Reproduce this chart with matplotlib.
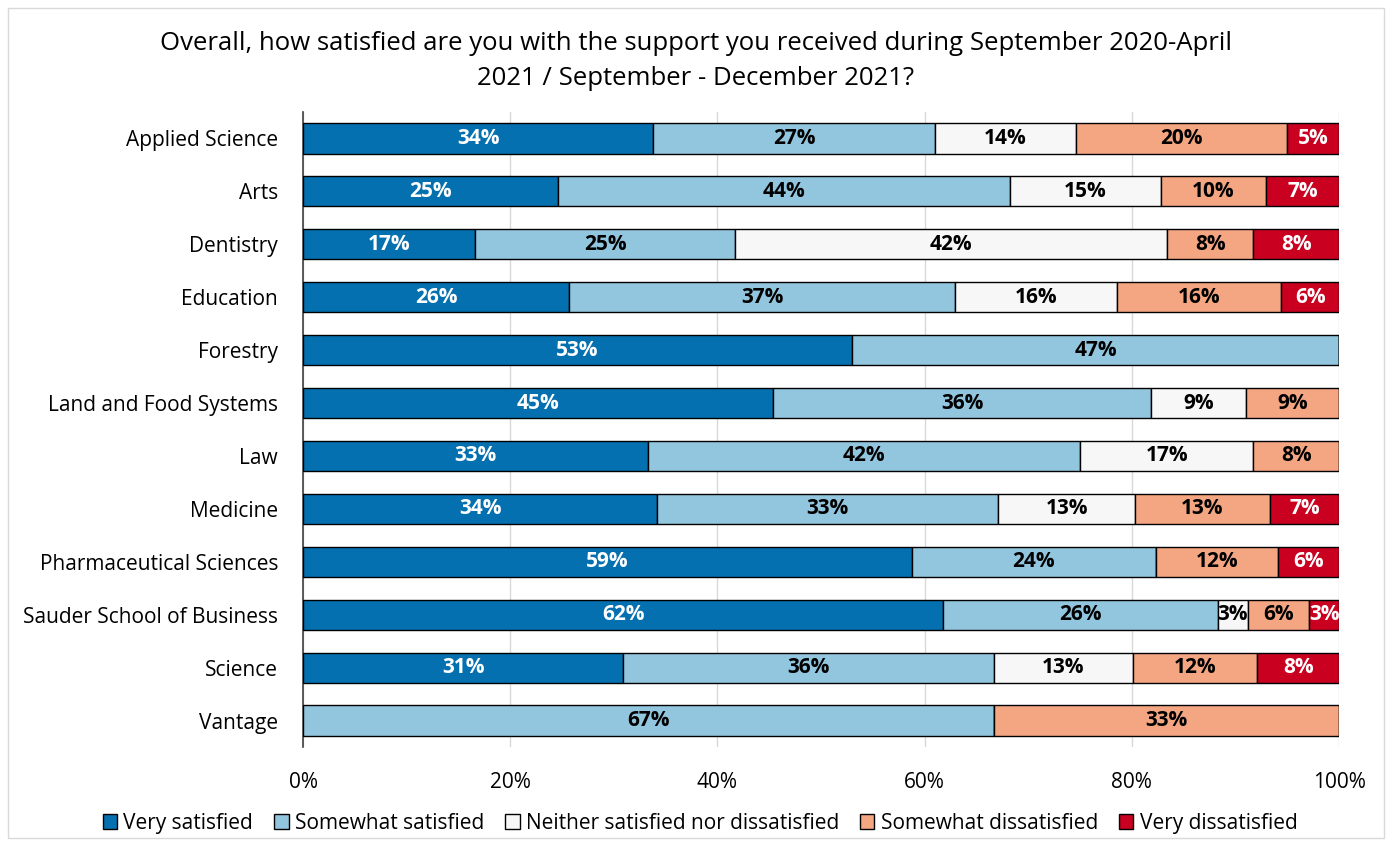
import matplotlib.pyplot as plt
from matplotlib.patches import Rectangle
import numpy as np

plt.rcParams["font.family"] = ["Open Sans", "DejaVu Sans"]

faculties = [
    "Applied Science", "Arts", "Dentistry", "Education", "Forestry",
    "Land and Food Systems", "Law", "Medicine", "Pharmaceutical Sciences",
    "Sauder School of Business", "Science", "Vantage",
]
responses = [
    "Very satisfied", "Somewhat satisfied", "Neither satisfied nor dissatisfied",
    "Somewhat dissatisfied", "Very dissatisfied",
]
very_sat = [33.8, 24.6, 16.6, 25.7, 53.0, 45.4, 33.3, 34.2, 58.8, 61.8, 30.9, 0.0]
some_sat = [27.2, 43.6, 25.1, 37.2, 47.0, 36.4, 41.7, 32.9, 23.5, 26.5, 35.8, 66.7]
neither = [13.6, 14.6, 41.7, 15.7, 0.0, 9.2, 16.7, 13.2, 0.0, 2.9, 13.4, 0.0]
some_dis = [20.4, 10.1, 8.3, 15.8, 0.0, 9.0, 8.3, 13.0, 11.8, 5.9, 12.0, 33.3]
very_dis = [5.0, 7.1, 8.3, 5.6, 0.0, 0.0, 0.0, 6.7, 5.9, 2.9, 7.9, 0.0]

colors = ["#0570b0", "#92c5de", "#f7f7f7", "#f4a582", "#ca0020"]
text_colors = ["white", "black", "black", "black", "white"]

fig = plt.figure(figsize=(13.92, 8.46), dpi=100)
fig.patches.append(Rectangle((8 / 1392, 8 / 846), 1 - 16 / 1392, 1 - 16 / 846,
                             transform=fig.transFigure, fill=False,
                             edgecolor="#d9d9d9", linewidth=1))
ax = fig.add_axes([0.2177, 0.117, 0.7443, 0.7506])

series = [very_sat, some_sat, neither, some_dis, very_dis]
y = np.arange(len(faculties))
left = np.zeros(len(faculties))
for vals, name, col, tcol in zip(series, responses, colors, text_colors):
    vals = np.array(vals)
    ax.barh(y, vals, left=left, height=0.57, color=col, edgecolor="black",
            linewidth=1.0, label=name, zorder=3)
    for yi, (l, v) in enumerate(zip(left, vals)):
        if v > 0:
            ax.text(l + v / 2, yi, f"{round(v):.0f}%", ha="center", va="center",
                    color=tcol, fontsize=15, fontweight="bold", zorder=4)
    left += vals

ax.set_xlim(0, 100)
ax.set_ylim(len(faculties) - 0.5, -0.5)
ax.set_yticks(y)
ax.set_yticklabels(faculties, fontsize=15)
ax.set_xticks(np.arange(0, 101, 20))
ax.set_xticklabels([f"{t}%" for t in range(0, 101, 20)], fontsize=15)
ax.tick_params(axis="both", length=0, pad=18)
ax.xaxis.grid(True, color="#d9d9d9", linewidth=1, zorder=0)
for side in ["top", "right", "bottom"]:
    ax.spines[side].set_visible(False)
ax.spines["left"].set_color("#404040")
ax.spines["left"].set_linewidth(1.2)

fig.text(0.5, 1 - 61 / 846,
         "Overall, how satisfied are you with the support you received during September 2020-April\n"
         "2021 / September - December 2021?", fontsize=18.5, ha="center", va="center",
         linespacing=1.55)

fig.legend(loc="center", bbox_to_anchor=(700 / 1392, 1 - 823 / 846), ncol=5, frameon=False,
           fontsize=15, handlelength=0.7, handleheight=0.7, handletextpad=0.3,
           columnspacing=1.0)

fig.savefig("out.png", dpi=100)
